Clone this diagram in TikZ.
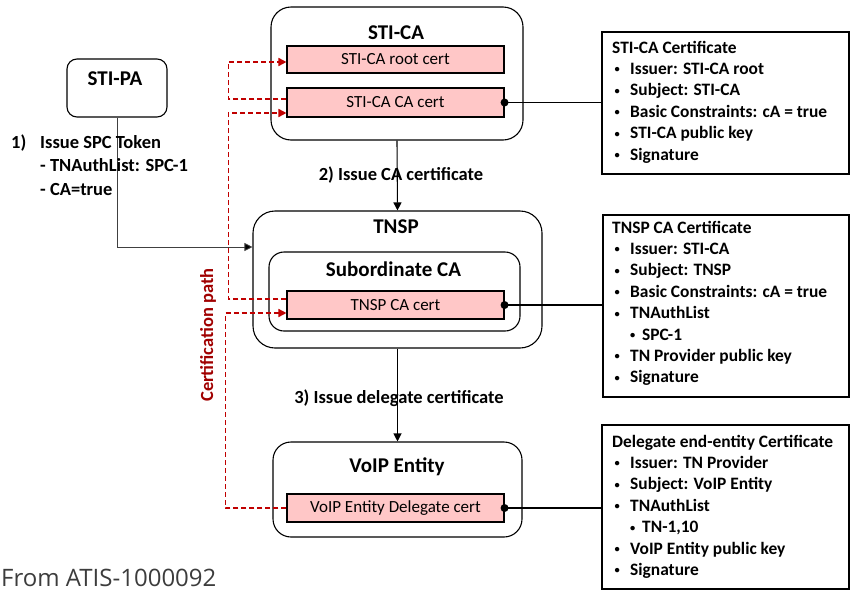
\documentclass[tikz,border=0pt]{standalone}
\usepackage{fontspec}
\setmainfont{Carlito}
\newfontfamily\srcfont{Open Sans}
\usetikzlibrary{arrows.meta,calc}
\definecolor{dkred}{RGB}{192,0,0}
\definecolor{certpink}{RGB}{255,199,199}
\definecolor{pathred}{RGB}{160,0,0}
\definecolor{srcgray}{RGB}{60,60,60}
\newcommand{\smbul}{\raisebox{1.5pt}{\scalebox{0.6}{\textbullet}}}
\newcommand{\bl}{\makebox[18pt][l]{\hspace{2.5pt}\smbul}}
\newcommand{\sbl}{\hspace{18pt}\makebox[12pt][l]{\smbul}}
\begin{document}
\begin{tikzpicture}[x=1pt,y=-1pt,
  outer/.style={draw=black,line width=1.1pt,inner sep=0pt},
  certbox/.style={draw=black,line width=1.1pt,fill=certpink,inner sep=0pt,minimum width=217pt,font=\fontsize{17}{20}\selectfont},
  infobox/.style={draw=black,line width=1.1pt,inner sep=0pt},
  boxtitle/.style={font=\fontsize{21}{25}\selectfont\bfseries,anchor=base,inner sep=0pt},
  steplabel/.style={font=\fontsize{18.5}{23.5}\selectfont\bfseries,inner sep=0pt},
  infotext/.style={font=\fontsize{17.4}{21.4}\selectfont\bfseries,anchor=base west,inner sep=0pt},
  conn/.style={line width=1.1pt,-{Triangle[length=8pt,width=8pt]}},
  cpath/.style={draw=dkred,line width=1.6pt,dash pattern=on 5pt off 3pt,-{Triangle[length=8pt,width=8pt]}},
  link/.style={line width=1.1pt}]
\useasboundingbox (0,0) rectangle (851,592);
\clip (0,0) rectangle (851,592);

% outer boxes
\node[outer,rounded corners=20pt,minimum width=252pt,minimum height=133pt] (stica) at (397,73.5) {};
\node[outer,rounded corners=10pt,minimum width=100pt,minimum height=58pt] (stipa) at (117,88) {};
\node[outer,rounded corners=22pt,minimum width=289pt,minimum height=137pt] (tnsp) at (397.5,279.5) {};
\node[outer,rounded corners=15pt,minimum width=251pt,minimum height=79pt] (subca) at (394.5,291.5) {};
\node[outer,rounded corners=18pt,minimum width=249pt,minimum height=95pt] (voip) at (397.5,489.5) {};

% titles
\node[boxtitle] (stica-t) at (396,39) {STI-CA};
\node[boxtitle] (stipa-t) at (115,85) {STI-PA};
\node[boxtitle] (tnsp-t) at (396,233) {TNSP};
\node[boxtitle] (subca-t) at (393.5,276) {Subordinate CA};
\node[boxtitle] (voip-t) at (397,472) {VoIP Entity};

% certificate boxes
\node[certbox,minimum height=27pt] (root) at (395.5,59.5) {STI-CA root cert};
\node[certbox,minimum height=29pt] (cacert) at (395.5,102.5) {STI-CA CA cert};
\node[certbox,minimum height=28pt] (tnspcert) at (395.5,305) {TNSP CA cert};
\node[certbox,minimum height=28pt] (voipcert) at (395.5,508) {VoIP Entity Delegate cert};

% info boxes
\node[infobox,minimum width=247pt,minimum height=142pt] (cert1) at (725.5,103) {};
\node[infobox,minimum width=246pt,minimum height=182pt] (cert2) at (726,306) {};
\node[infobox,minimum width=247pt,minimum height=164pt] (cert3) at (725.5,507) {};

\node[infotext] (cert1-t) at (612,53) {\begin{tabular}[t]{@{}l@{}}
STI-CA Certificate\\
\bl Issuer: STI-CA root\\
\bl Subject: STI-CA\\
\bl Basic Constraints: cA = true\\
\bl STI-CA public key\\
\bl Signature
\end{tabular}};
\node[infotext] (cert2-t) at (612,233) {\begin{tabular}[t]{@{}l@{}}
TNSP CA Certificate\\
\bl Issuer: STI-CA\\
\bl Subject: TNSP\\
\bl Basic Constraints: cA = true\\
\bl TNAuthList\\
\sbl SPC-1\\
\bl TN Provider public key\\
\bl Signature
\end{tabular}};
\node[infotext] (cert3-t) at (612,447) {\begin{tabular}[t]{@{}l@{}}
Delegate end-entity Certificate\\
\bl Issuer: TN Provider\\
\bl Subject: VoIP Entity\\
\bl TNAuthList\\
\sbl TN-1,10\\
\bl VoIP Entity public key\\
\bl Signature
\end{tabular}};

% links to info boxes
\draw[link] (cacert.east) -- (cacert.east -| cert1.west);
\draw[link] (tnspcert.east) -- (tnspcert.east -| cert2.west);
\draw[link] (voipcert.east) -- (voipcert.east -| cert3.west);
\fill (cacert.east) circle (4pt);
\fill (tnspcert.east) circle (4pt);
\fill (voipcert.east) circle (4pt);

% issuing arrows
\draw[conn] (stica.south) -- (tnsp.north);
\draw[conn] (tnsp.south) -- (voip.north);
\draw[line width=0.8pt,draw=black!75,-{Triangle[length=8pt,width=8pt,fill=black]}] (stipa.south) |- ($(tnsp.west)+(0,-32.5)$);

% step labels
\node[steplabel,anchor=base] (l2) at (401,180) {2) Issue CA certificate};
\node[steplabel,anchor=base] (l3) at (399,403) {3) Issue delegate certificate};
\node[steplabel,anchor=base west] (l1) at (11,148) {\begin{tabular}[t]{@{}p{29pt}@{}l@{}}
1) & Issue SPC Token\\
 & - TNAuthList: SPC-1\\
 & - CA=true
\end{tabular}};

% certification path
\draw[cpath] ($(cacert.west)+(0,-3.5)$) -- ++(-58,0) |- ($(root.west)+(0,2.5)$);
\draw[cpath] ($(tnspcert.west)+(0,-6)$) -- ++(-58,0) |- ($(cacert.west)+(0,10.5)$);
\draw[cpath] (voipcert.west) -- ++(-60.95,0) |- ($(tnspcert.west)+(0,8)$);
\node[steplabel,text=pathred,rotate=90] (cpl) at (208,335) {Certification path};

% source
\node[anchor=base west,inner sep=0pt,text=srcgray,font=\srcfont\fontsize{24}{28}\selectfont] (src) at (1,586) {From ATIS-1000092};
\end{tikzpicture}
\end{document}
